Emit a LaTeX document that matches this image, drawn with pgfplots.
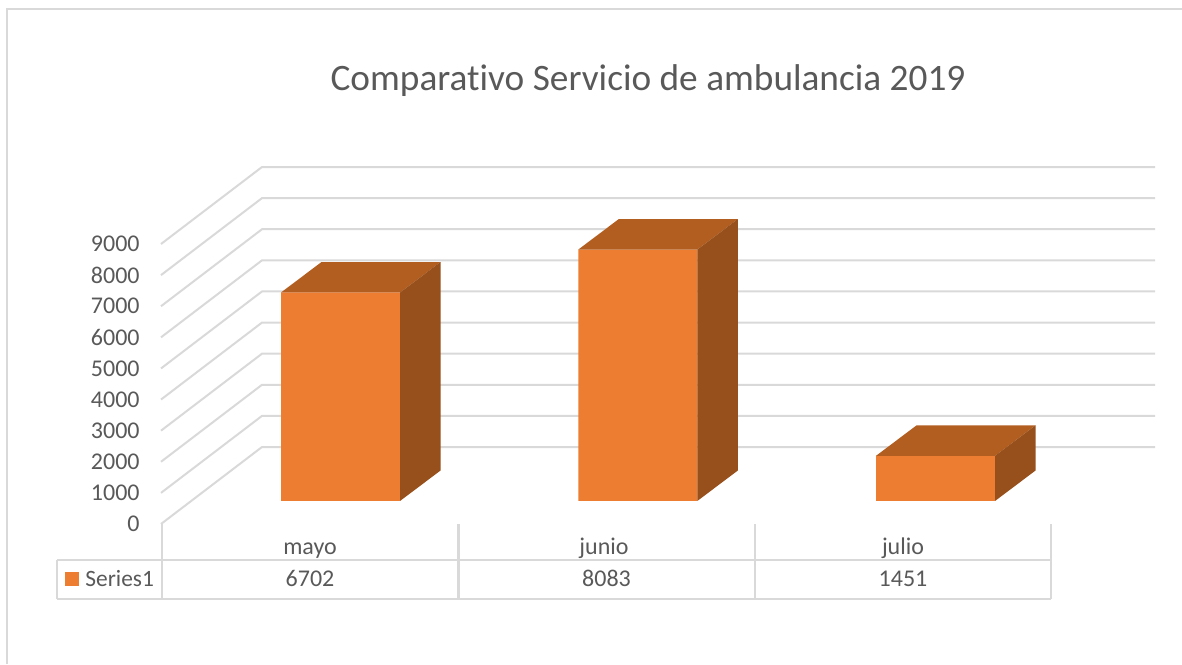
\documentclass[border=0pt]{standalone}
\usepackage{fontspec}
\setmainfont[Ligatures=NoCommon]{Carlito}
\usepackage{pgfplots}
\pgfplotsset{compat=1.18}
\definecolor{txt}{HTML}{595959}
\definecolor{gridc}{HTML}{D9D9D9}
\definecolor{front}{HTML}{ED7D31}
\definecolor{topf}{HTML}{B35E21}
\definecolor{sidef}{HTML}{97501B}
% 1 px of the reference = 0.5pt; 280 px = 9000 units, so 30.5 px of depth = 980 units
\pgfplotsset{plotbox/.style={
    scale only axis, width=444.5pt, height=140pt,
    xmin=162, xmax=1051, ymin=0, ymax=9000,
    clip=false, anchor=south west}}
\begin{document}
\begin{tikzpicture}[x=0.5pt,y=0.5pt]
\path[use as bounding box] (0,0) rectangle (1182,664);
\draw[gridc,line width=1pt] (7,0) -- (7,655) -- (1182,655);
% walls and table
\begin{axis}[plotbox, at={(81pt,70pt)},
    axis line style={draw=none}, major tick length=0pt,
    ytick distance=1000, xtick={310,604,903},
    xticklabels={mayo,junio,julio},
    /pgf/number format/1000 sep={}, /pgf/number format/assume math mode=true,
    tick label style={font=\fontsize{12}{14}\selectfont, text=txt},
    yticklabel style={inner xsep=0pt, xshift=-11pt},
    xticklabel style={anchor=base, yshift=-15.5pt},
    title={Comparativo Servicio de ambulancia 2019},
    title style={font=\fontsize{18.65}{22}\selectfont, text=txt, anchor=base,
        at={(axis description cs:0.5467,1.507)}},
]
\pgfplotsinvokeforeach{0,1000,...,9000}{
  \addplot[gridc, line width=1pt, mark=none] coordinates {(161,#1) (262,#1+2475) (1155,#1+2475)};
}
\end{axis}
\draw[gridc,line width=1.1pt] (162,140) -- (162,65)  (458.5,140) -- (458.5,65)
     (755,140) -- (755,65)  (1051,140) -- (1051,65)
     (57,104) -- (1051,104)  (57,65) -- (1051,65)  (57,104) -- (57,65);
\fill[front] (65,78) rectangle (79,92);
\node[anchor=base west,inner sep=0pt,text=txt,font=\fontsize{11.7}{14}\selectfont] at (85,78) {Series1};
\node[anchor=base,inner sep=0pt,text=txt,font=\fontsize{12}{14}\selectfont] at (310,78) {6702};
\node[anchor=base,inner sep=0pt,text=txt,font=\fontsize{12}{14}\selectfont] at (606.5,78) {8083};
\node[anchor=base,inner sep=0pt,text=txt,font=\fontsize{12}{14}\selectfont] at (903,78) {1451};
% bars, front plane sits 23 px above the axis zero
\begin{axis}[plotbox, at={(81pt,81.5pt)}, hide axis]
\addplot[ybar, bar width=59.5pt, bar shift=0pt, fill=front, draw=none] coordinates {(340.5,6702) (637.8,8083) (935.5,1451)};
\addplot[fill=topf, draw=none, mark=none] coordinates {(281,6702) (321.5,7682) (440.5,7682) (400,6702)};
\addplot[fill=sidef, draw=none, mark=none] coordinates {(400,0) (440.5,980) (440.5,7682) (400,6702)};
\addplot[fill=topf, draw=none, mark=none] coordinates {(578.3,8083) (618.8,9063) (737.8,9063) (697.3,8083)};
\addplot[fill=sidef, draw=none, mark=none] coordinates {(697.3,0) (737.8,980) (737.8,9063) (697.3,8083)};
\addplot[fill=topf, draw=none, mark=none] coordinates {(876,1451) (916.5,2431) (1035.5,2431) (995,1451)};
\addplot[fill=sidef, draw=none, mark=none] coordinates {(995,0) (1035.5,980) (1035.5,2431) (995,1451)};
\end{axis}
\end{tikzpicture}
\end{document}
